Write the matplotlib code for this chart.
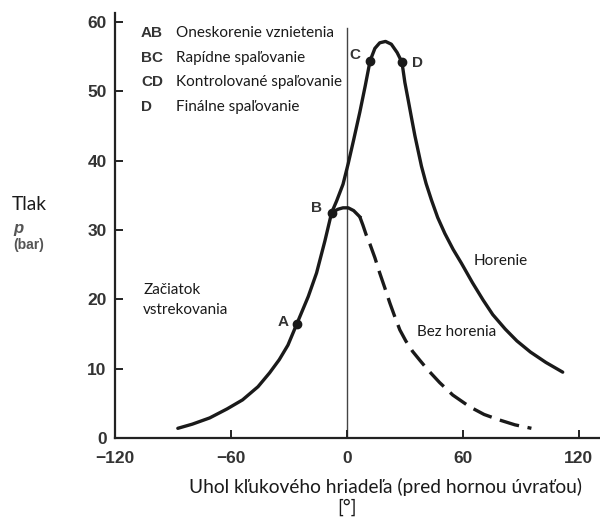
import matplotlib
matplotlib.use("Agg")
import matplotlib.pyplot as plt

# Horenie (combustion) curve
horenie_x = [-87.5, -80, -71, -62, -54, -46, -40, -35, -30.5, -26, -20, -15.7, -11.4, -7.9,
             -5.3, -2, 0.7, 3.5, 6.7, 9.5, 12, 14.5, 17, 20, 23, 26, 28.5, 30, 31.7, 33.5,
             35.2, 38.6, 41, 43.8, 47, 50.7, 55, 59.3, 65, 70.5, 75.5, 82, 88, 95, 103, 111.7]
horenie_y = [1.4, 2.0, 2.9, 4.2, 5.5, 7.4, 9.4, 11.3, 13.4, 16.4, 20.4, 23.8, 28.4, 32.5,
             34.2, 36.6, 39.6, 43.0, 47.0, 50.8, 54.4, 56.2, 57.0, 57.2, 56.8, 55.6, 54.2, 51.3, 48.8, 46.1,
             43.6, 39.2, 36.7, 34.3, 31.8, 29.5, 27.2, 25.2, 22.4, 19.9, 17.8, 15.7, 14.0, 12.4, 10.9, 9.5]

# Bez horenia (motoring) curve; first part solid, rest dashed
bez_x = [-7.9, -4.6, -2, 0.7, 3.5, 6.7, 8.3, 10, 11.9, 14.5, 17, 19.7, 22.2, 24.8, 27.4,
         30.5, 34, 37.8, 42, 48, 54.8, 63.6, 71, 79, 87, 95.5]
bez_y = [32.5, 33.0, 33.2, 33.2, 32.8, 31.9, 30.7, 29.3, 28.0, 26.0, 23.8, 21.6, 19.5, 17.5, 15.6,
         14.0, 12.5, 11.2, 9.8, 8.0, 6.2, 4.5, 3.4, 2.6, 1.9, 1.4]
bez_solid_end = 6

# marked points A, B, C, D
pt_names = ["A", "B", "C", "D"]
pt_x = [-26, -7.9, 12, 28.5]
pt_y = [16.4, 32.5, 54.4, 54.2]

legend_codes = ["AB", "BC", "CD", "D"]
legend_texts = ["Oneskorenie vznietenia", "Rapídne spaľovanie",
                "Kontrolované spaľovanie", "Finálne spaľovanie"]

x_ticks = [-120, -60, 0, 60, 120]
y_ticks = [0, 10, 20, 30, 40, 50, 60]

TXT = "Lato"
ink = "#1a1a1a"

fig = plt.figure(figsize=(6, 5.18), dpi=100)
ax = fig.add_axes([0.1917, 0.1544, 0.8083, 0.8205])
ax.set_xlim(-120, 131)
ax.set_ylim(0, 61.3)

for s in ["top", "right"]:
    ax.spines[s].set_visible(False)
for s in ["left", "bottom"]:
    ax.spines[s].set_linewidth(1.6)
    ax.spines[s].set_color("#222222")

ax.set_xticks(x_ticks)
ax.set_yticks(y_ticks)
ax.set_xticklabels(["\u2212120", "\u221260", "0", "60", "120"])
ax.tick_params(direction="in", length=6, width=1.4, color="#222222",
               labelsize=12.5, labelcolor="#333333")
ax.tick_params(axis="x", pad=9)
ax.tick_params(axis="y", pad=6)
for lab in ax.get_xticklabels() + ax.get_yticklabels():
    lab.set_fontweight("bold")
    lab.set_family("Liberation Sans")

# vertical TDC line
ax.axvline(0, ymin=0, ymax=59.2 / 61.3, color="#444444", lw=1.0, zorder=1)

ax.plot(horenie_x, horenie_y, color=ink, lw=2.4, solid_capstyle="round", zorder=3)
ax.plot(bez_x[:bez_solid_end], bez_y[:bez_solid_end], color=ink, lw=2.4, zorder=3)
ax.plot(bez_x[bez_solid_end - 1:], bez_y[bez_solid_end - 1:], color=ink, lw=2.4,
        dashes=(6, 2.6), zorder=3)
ax.plot(pt_x, pt_y, "o", color=ink, ms=6, zorder=4)

# point labels
lbl_pos = {"A": (-33.1, 16.7), "B": (-15.5, 33.2), "C": (4.1, 55.3), "D": (36.7, 54.1)}
for n in pt_names:
    lx, ly = lbl_pos[n]
    ax.text(lx, ly, n, ha="center", va="center", fontsize=11, fontweight="bold",
            color="#333333", family="Liberation Sans")

# legend block
leg_y = [58.4, 54.8, 51.4, 47.8]
for code, txt, yy in zip(legend_codes, legend_texts, leg_y):
    ax.text(-106.6, yy, code, ha="left", va="center", fontsize=11, fontweight="bold",
            color="#333333", family="Liberation Sans")
    t = ax.text(-88.5, yy, txt, ha="left", va="center", fontsize=11, color=ink, family=TXT)
    if code == "CD":
        t.set_bbox(dict(facecolor="white", edgecolor="none", pad=1.0))

ax.text(-105.5, 21.4, "Začiatok", ha="left", va="center", fontsize=11, color=ink, family=TXT)
ax.text(-105.5, 18.5, "vstrekovania", ha="left", va="center", fontsize=11, color=ink, family=TXT)
ax.text(65.7, 25.5, "Horenie", ha="left", va="center", fontsize=11, color=ink, family=TXT)
ax.text(36.2, 15.3, "Bez horenia", ha="left", va="center", fontsize=11, color=ink, family=TXT)

# axis labels placed in figure pixels
W, H = 600, 518
fig.text(12 / W, 1 - 204 / H, "Tlak", ha="left", va="center", fontsize=13.8, color=ink, family=TXT)
fig.text(13 / W, 1 - 228 / H, "p", ha="left", va="center", fontsize=12, style="italic",
         fontweight="bold", color="#555555", family="Liberation Sans")
fig.text(13 / W, 1 - 245 / H, "(bar)", ha="left", va="center", fontsize=10,
         fontweight="bold", color="#555555", family="Liberation Sans")
fig.text(385 / W, 1 - 487 / H, "Uhol kľukového hriadeľa (pred hornou úvraťou)",
         ha="center", va="center", fontsize=13.8, color=ink, family=TXT)
fig.text(347 / W, 1 - 507 / H, "[°]", ha="center", va="center", fontsize=13.8, color=ink, family=TXT)

fig.savefig("out.png", dpi=100)
